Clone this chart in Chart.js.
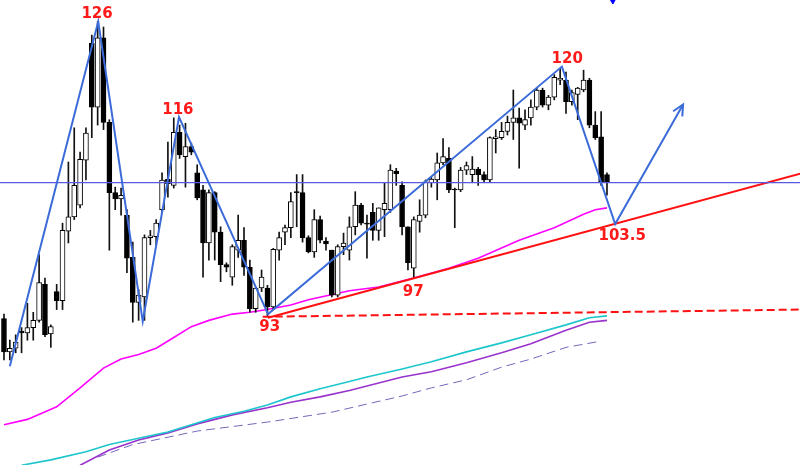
<!DOCTYPE html>
<html>
<head>
<meta charset="utf-8">
<script src="https://cdn.jsdelivr.net/npm/chart.js@4.4.1/dist/chart.umd.min.js"></script>
<style>
  body { margin: 0; background: #ffffff; }
  #wrap { width: 800px; height: 465px; position: relative; }
</style>
</head>
<body>
<div id="wrap"><canvas id="grafico"></canvas></div>
<script>
// candles, one per bar index
const opens = [93.1, 89.4, 89.8, 91.7, 91.5, 92.1, 92.9, 96.9, 91.4, 96.1,
  95.1, 102.8, 104.4, 105.7, 110.7, 123.7, 116.6, 124.3, 114.9, 107.1,
  106.4, 104.6, 99.9, 94.9, 95.5, 102.1, 102.2, 105.2, 108.6, 107.9,
  113.8, 111.1, 112.2, 109.3, 107.4, 101.5, 107.1, 102.7, 99.1, 97.7,
  100.7, 101.8, 98.8, 94.2, 96.5, 96.5, 94.4, 100.7, 102.7, 103.2,
  107.2, 107.1, 102.1, 100.5, 104.1, 101.7, 100.7, 95.7, 101.1, 100.7,
  103.3, 105.7, 103.7, 104.9, 102.9, 105.2, 105.2, 109.5, 107.9, 103.3,
  98.7, 103.9, 104.6, 108.2, 108.5, 110.4, 110.9, 107.5, 107.4, 109.6,
  109.1, 109.7, 109.1, 108.5, 113.1, 113.2, 113.9, 114.9, 115.4, 114.6,
  115.4, 116.6, 118.5, 116.8, 117.7, 119.6, 119.6, 117.2, 118.0, 118.5,
  119.6, 114.6, 113.3, 109.1];
const highs = [93.6, 90.7, 91.3, 92.1, 94.8, 93.8, 100.2, 97.6, 92.4, 96.9,
  103.7, 110.5, 114.3, 111.6, 114.3, 124.6, 126.1, 125.5, 115.2, 107.7,
  107.6, 105.2, 101.6, 96.3, 102.4, 102.9, 104.1, 109.3, 112.7, 115.4,
  114.6, 114.8, 112.6, 110.2, 107.9, 107.4, 107.2, 103.3, 99.3, 101.3,
  104.6, 103.2, 99.6, 96.6, 98.5, 96.8, 100.9, 102.7, 103.5, 107.1,
  109.1, 109.1, 102.3, 105.2, 104.5, 102.1, 100.7, 101.3, 102.6, 104.4,
  107.2, 105.9, 104.6, 105.9, 105.4, 108.2, 110.2, 109.8, 108.3, 103.3,
  104.4, 106.3, 108.5, 108.8, 111.5, 113.1, 112.1, 107.6, 109.9, 110.5,
  111.1, 109.9, 109.4, 113.3, 114.1, 114.9, 115.6, 118.5, 116.5, 116.3,
  117.4, 118.7, 118.7, 117.9, 120.2, 120.9, 120.5, 118.5, 118.8, 120.7,
  119.8, 116.1, 116.1, 109.3];
const lows = [88.5, 88.5, 89.3, 89.3, 90.7, 90.7, 92.7, 91.1, 89.9, 94.1,
  94.1, 101.5, 104.1, 105.4, 108.5, 113.2, 114.6, 114.1, 100.7, 105.2,
  104.6, 98.2, 92.7, 92.9, 92.9, 101.3, 101.3, 104.9, 106.6, 107.6,
  110.9, 107.7, 111.3, 106.3, 97.7, 99.6, 99.6, 97.2, 98.3, 96.8,
  99.9, 97.9, 93.8, 93.8, 96.1, 93.4, 94.1, 99.6, 101.3, 102.1,
  103.3, 101.6, 100.4, 99.9, 101.5, 100.7, 95.5, 95.5, 100.2, 99.6,
  102.4, 103.5, 99.8, 101.8, 101.8, 102.2, 104.9, 107.9, 102.4, 98.5,
  97.6, 102.7, 104.3, 107.7, 106.3, 110.2, 107.1, 103.2, 107.2, 109.1,
  108.2, 107.9, 108.3, 108.3, 111.5, 113.0, 113.5, 113.0, 109.8, 114.1,
  114.6, 116.3, 116.6, 116.3, 117.4, 119.1, 115.9, 116.8, 115.2, 118.3,
  114.3, 113.0, 107.9, 106.8];
const closes = [89.4, 89.8, 90.5, 91.5, 92.1, 92.9, 97.1, 91.3, 92.2, 95.1,
  102.9, 104.4, 107.9, 110.8, 113.7, 116.6, 124.3, 114.9, 107.1, 106.4,
  106.8, 99.8, 94.9, 95.7, 102.1, 102.3, 103.7, 108.5, 108.1, 113.8,
  111.3, 112.2, 111.6, 106.5, 101.5, 107.1, 102.7, 99.1, 98.8, 101.1,
  101.8, 98.8, 94.2, 96.5, 97.7, 94.4, 100.8, 102.1, 103.2, 106.1,
  107.1, 102.1, 100.5, 104.1, 101.8, 101.4, 95.7, 101.1, 101.5, 103.3,
  105.7, 103.7, 103.6, 102.9, 105.4, 105.9, 109.6, 109.2, 103.3, 99.3,
  104.1, 104.6, 108.3, 108.6, 110.4, 111.1, 107.4, 107.4, 109.6, 110.1,
  109.7, 109.1, 108.5, 113.2, 113.3, 113.9, 114.9, 115.4, 114.8, 115.2,
  116.6, 118.5, 116.8, 117.7, 119.9, 119.8, 117.2, 118.2, 118.7, 119.6,
  114.6, 113.2, 108.2, 108.2];

// moving averages (bar index, price)
const maFastX = [0, 4, 9, 13, 17, 20, 23, 26, 29, 32, 35, 39, 42, 45, 49, 52, 59, 64, 70, 76, 81, 88, 94, 99, 101, 103];
const maFastY = [81.3, 81.9, 83.3, 85.4, 87.6, 88.6, 89.1, 89.8, 91.0, 92.2, 92.9, 93.6, 93.8, 94.1, 94.6, 95.2, 96.2, 96.6, 97.6, 98.7, 99.8, 101.8, 103.2, 104.7, 105.2, 105.4];
const maCyanX = [3, 8, 14, 18, 23, 28, 32, 36, 41, 45, 49, 54, 59, 62, 68, 73, 79, 85, 90, 96, 100, 103];
const maCyanY = [76.8, 77.4, 78.3, 79.1, 79.8, 80.5, 81.3, 82.1, 82.8, 83.5, 84.4, 85.3, 86.1, 86.6, 87.5, 88.3, 89.4, 90.4, 91.3, 92.4, 93.2, 93.4];
const maPurpleX = [13, 18, 23, 28, 33, 39, 45, 49, 54, 59, 68, 73, 79, 85, 90, 96, 100, 103];
const maPurpleY = [76.8, 78.5, 79.6, 80.4, 81.4, 82.4, 83.2, 83.8, 84.4, 85.1, 86.6, 87.2, 88.2, 89.3, 90.3, 91.8, 92.7, 92.9];
const maSlowX = [16, 22, 33, 45, 56, 68, 73, 79, 85, 90, 96, 102];
const maSlowY = [77.7, 79.1, 80.6, 81.6, 82.7, 84.5, 85.4, 86.3, 87.7, 88.6, 89.9, 90.6];

// drawn lines
const zigzagX = [1.0, 16.1, 23.7, 29.9, 45.1, 95.3, 104.4, 116.0];
const zigzagY = [87.8, 126.1, 92.8, 115.5, 93.6, 121.1, 103.6, 116.9];
const trendX = [45.1, 136.0];
const trendY = [93.2, 109.2];
const supportX = [44.2, 136.0];
const supportY = [93.3, 94.1];
const levelY = 108.2;
const markX = [104.0];
const markY = [128.5];

const labelText = ['126', '116', '93', '97', '120', '103.5'];
const labelX = [15.9, 29.7, 45.4, 69.9, 96.2, 105.6];
const labelY = [126.9, 116.3, 92.1, 96.0, 121.9, 102.3];

const xMin = -0.68;
const xMax = 135.97;

function pairs(xs, ys) {
  var out = [];
  for (var i = 0; i < xs.length; i++) {
    out.push({ x: xs[i], y: ys[i] });
  }
  return out;
}

var wickData = [];
var bodyData = [];
var bodyColors = [];
for (var i = 0; i < opens.length; i++) {
  wickData.push({ x: i, y: [lows[i], highs[i]] });
  bodyData.push({ x: i, y: [opens[i], closes[i]] });
  bodyColors.push(closes[i] >= opens[i] ? '#ffffff' : '#000000');
}

function lineSet(data, color, width, dash, order) {
  return {
    type: 'line',
    data: data,
    borderColor: color,
    borderWidth: width,
    borderDash: dash || [],
    pointRadius: 0,
    tension: 0,
    fill: false,
    order: order
  };
}

// red price labels
const labelPlugin = {
  id: 'labelPlugin',
  afterDatasetsDraw: function(chart) {
    var ctx = chart.ctx;
    var sx = chart.scales.x;
    var sy = chart.scales.y;
    ctx.save();
    ctx.font = 'bold 15px "DejaVu Sans", sans-serif';
    ctx.fillStyle = '#ff1a1a';
    ctx.textAlign = 'center';
    ctx.textBaseline = 'middle';
    for (var i = 0; i < labelText.length; i++) {
      ctx.fillText(labelText[i], sx.getPixelForValue(labelX[i]), sy.getPixelForValue(labelY[i]));
    }
    ctx.restore();
  }
};

// arrow head on the end of the zigzag
const arrowPlugin = {
  id: 'arrowPlugin',
  afterDatasetsDraw: function(chart) {
    var pts = chart.getDatasetMeta(0).data;
    var a = pts[pts.length - 2];
    var b = pts[pts.length - 1];
    var ang = Math.atan2(b.y - a.y, b.x - a.x);
    var len = 12;
    var ctx = chart.ctx;
    ctx.save();
    ctx.strokeStyle = '#3b6bd9';
    ctx.lineWidth = 2;
    ctx.beginPath();
    ctx.moveTo(b.x - len * Math.cos(ang - 0.45), b.y - len * Math.sin(ang - 0.45));
    ctx.lineTo(b.x, b.y);
    ctx.lineTo(b.x - len * Math.cos(ang + 0.45), b.y - len * Math.sin(ang + 0.45));
    ctx.stroke();
    ctx.restore();
  }
};

const ctx = document.getElementById('grafico').getContext('2d');
const grafico = new Chart(ctx, {
  type: 'bar',
  data: {
    datasets: [
      lineSet(pairs(zigzagX, zigzagY), '#3b6bd9', 2, null, 1),
      lineSet([{ x: xMin, y: levelY }, { x: xMax, y: levelY }], '#5a5ae0', 1.2, null, 2),
      lineSet(pairs(trendX, trendY), '#ff1111', 2, null, 3),
      lineSet(pairs(supportX, supportY), '#ff1111', 2, [8, 4], 3),
      {
        type: 'bar',
        data: bodyData,
        backgroundColor: bodyColors,
        borderColor: '#000000',
        borderWidth: 1,
        borderSkipped: false,
        barThickness: 5,
        grouped: false,
        order: 5
      },
      {
        type: 'bar',
        data: wickData,
        backgroundColor: '#111111',
        borderWidth: 0,
        barThickness: 1,
        grouped: false,
        order: 6
      },
      lineSet(pairs(maFastX, maFastY), '#ff00ff', 1.6, null, 7),
      lineSet(pairs(maCyanX, maCyanY), '#1cc6cc', 1.6, null, 7),
      lineSet(pairs(maPurpleX, maPurpleY), '#9933cc', 1.6, null, 7),
      lineSet(pairs(maSlowX, maSlowY), '#7766bb', 1, [9, 5], 7),
      {
        type: 'scatter',
        data: pairs(markX, markY),
        pointStyle: 'triangle',
        rotation: 180,
        radius: 4,
        backgroundColor: '#0000ff',
        borderColor: '#0000ff',
        clip: false,
        order: 1
      }
    ]
  },
  options: {
    responsive: true,
    maintainAspectRatio: false,
    animation: false,
    layout: { padding: 0, autoPadding: false },
    plugins: {
      legend: { display: false },
      tooltip: { enabled: false }
    },
    scales: {
      x: { type: 'linear', min: xMin, max: xMax, offset: false, display: false },
      y: { min: 76.83, max: 128.5, display: false }
    }
  },
  plugins: [labelPlugin, arrowPlugin]
});
</script>
</body>
</html>
